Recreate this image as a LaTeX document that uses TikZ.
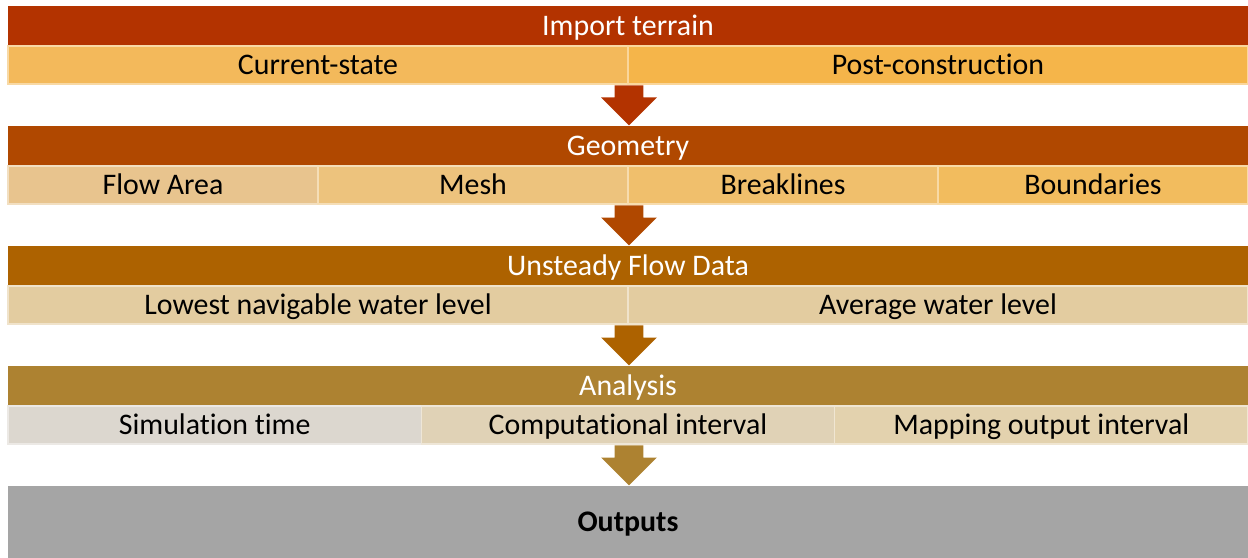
\documentclass[tikz,border=0pt]{standalone}
\usepackage{fontspec}
\setmainfont{Carlito}[Ligatures=NoCommon]
\usetikzlibrary{shapes.arrows}

\definecolor{headA}{HTML}{B33300}
\definecolor{headB}{HTML}{B04800}
\definecolor{headC}{HTML}{AD6200}
\definecolor{headD}{HTML}{AD8231}
\definecolor{outgray}{HTML}{A5A5A5}
\definecolor{cellA}{HTML}{F3B95B}
\definecolor{cellB}{HTML}{F5B54A}
\definecolor{cellC}{HTML}{E8C48E}
\definecolor{cellD}{HTML}{EDC37D}
\definecolor{cellE}{HTML}{F0BF6C}
\definecolor{cellF}{HTML}{F2BC5E}
\definecolor{cellG}{HTML}{E3CCA0}
\definecolor{cellH}{HTML}{DCD7CF}
\definecolor{cellI}{HTML}{E0D2B6}
\definecolor{cellJ}{HTML}{E3D2AE}

\begin{document}
\begin{tikzpicture}[x=0.02cm,y=-0.02cm]
\tikzset{
  head/.style={fill=#1,text=white,minimum width=24.8cm,minimum height=0.8cm,inner sep=0pt,
    font=\fontsize{17}{18}\selectfont,text height=0.45cm,text depth=0.07cm},
  cell/.style={fill=#1,draw=#1!55!white,line width=0.8pt,minimum height=0.76cm,inner sep=0pt,
    font=\fontsize{17}{18}\selectfont,text height=0.45cm,text depth=0.07cm},
  half/.style={cell=#1,minimum width=12.4cm},
  third/.style={cell=#1,minimum width=8.267cm},
  quarter/.style={cell=#1,minimum width=6.2cm},
  down/.style={single arrow,rotate=-90,anchor=tail,fill=#1,inner xsep=0pt,inner ysep=0.28cm,
    minimum height=0.8cm,single arrow head extend=0.27cm,single arrow tip angle=90},
}
\useasboundingbox (0,0) rectangle (1248,558);

\node[head=headA] (terrain) at (628,26) {Import terrain};
\node[half=cellA] (current) at (318,65) {Current-state};
\node[half=cellB] (post) at (938,65) {Post-construction};

\node[down=headA] (arrA) at (629,85) {};

\node[head=headB] (geometry) at (628,146) {Geometry};
\node[quarter=cellC] (flow) at (163,185) {Flow Area};
\node[quarter=cellD] (mesh) at (473,185) {Mesh};
\node[quarter=cellE] (breaklines) at (783,185) {Breaklines};
\node[quarter=cellF] (boundaries) at (1093,185) {Boundaries};

\node[down=headB] (arrB) at (629,205) {};

\node[head=headC] (unsteady) at (628,266) {Unsteady Flow Data};
\node[half=cellG] (lowest) at (318,305) {Lowest navigable water level};
\node[half=cellG] (average) at (938,305) {Average water level};

\node[down=headC] (arrC) at (629,325) {};

\node[head=headD] (analysis) at (628,386) {Analysis};
\node[third=cellH] (simtime) at (214.7,425) {Simulation time};
\node[third=cellI] (compint) at (628,425) {Computational interval};
\node[third=cellJ] (mapint) at (1041.3,425) {Mapping output interval};

\node[down=headD] (arrD) at (629,445) {};

\node[fill=outgray,minimum width=24.8cm,minimum height=1.44cm,inner sep=0pt,
  font=\fontsize{17}{18}\selectfont\bfseries,text height=0.45cm,text depth=0.07cm] (outputs) at (628,522) {Outputs};
\end{tikzpicture}
\end{document}
